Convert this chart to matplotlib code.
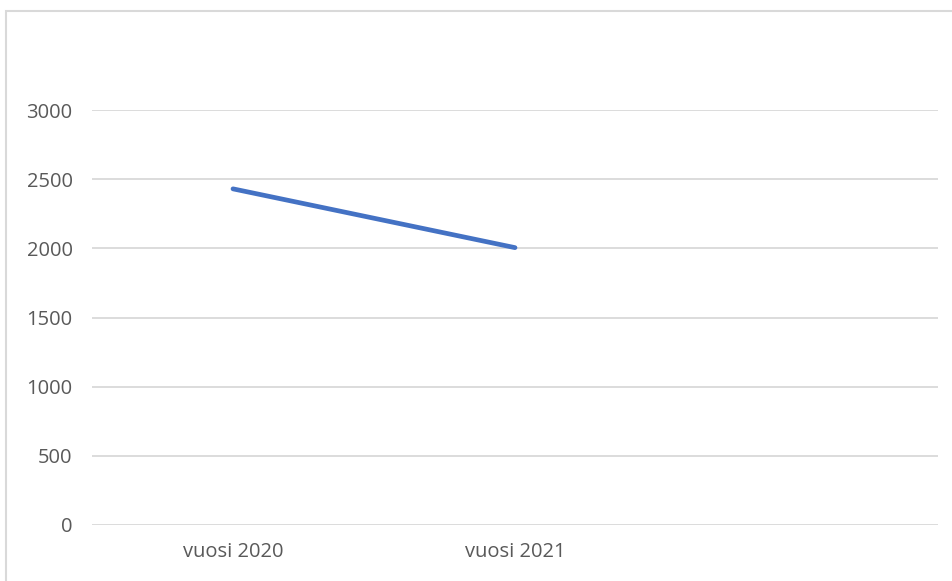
import matplotlib.pyplot as plt
from matplotlib.patches import Rectangle

categories = ["vuosi 2020", "vuosi 2021", ""]
values = [2430, 2005]
yticks = [0, 500, 1000, 1500, 2000, 2500, 3000]

plt.rcParams['font.family'] = ['Open Sans', 'DejaVu Sans']

fig = plt.figure(figsize=(9.52, 5.81), dpi=100)
# outer chart frame (cut off at right and bottom like the screenshot)
fig.patches.append(Rectangle((6/952, -0.05), 1.0, 1 - 11/581 + 0.05,
                             transform=fig.transFigure, fill=False,
                             edgecolor='#d9d9d9', linewidth=1.5))

ax = fig.add_axes([92/952, 1 - 525/581, (938 - 92)/952, (525 - 110)/581])
x = list(range(len(categories)))
ax.plot(x[:len(values)], values, color='#4472C4', linewidth=3.4,
        solid_capstyle='round', zorder=3)

ax.set_xlim(-0.5, len(categories) - 0.5)
ax.set_ylim(0, 3000)
ax.set_yticks(yticks)
ax.set_xticks(x)
ax.set_xticklabels(categories)
for s in ax.spines.values():
    s.set_visible(False)
ax.grid(axis='y', color='#d9d9d9', linewidth=1.3)
ax.set_axisbelow(True)
ax.tick_params(length=0, labelsize=14.5, colors='#595959')
ax.tick_params(axis='y', pad=14)
ax.tick_params(axis='x', pad=12.5)

fig.savefig("out.png", dpi=100)
